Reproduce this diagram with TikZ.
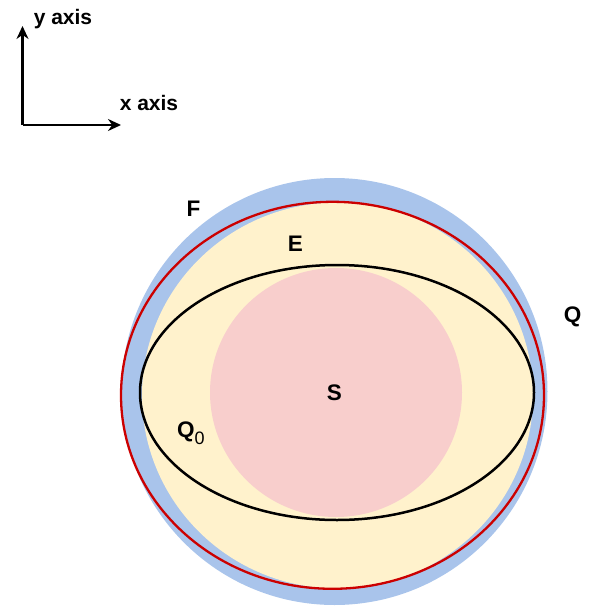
\documentclass[tikz,border=0pt]{standalone}
\usepackage{fontspec}
\setmainfont{Liberation Sans}
\usetikzlibrary{arrows.meta}
\definecolor{bandblue}{HTML}{A9C4EB}
\definecolor{fillyellow}{HTML}{FFF2CC}
\definecolor{fillpink}{HTML}{F8CECC}
\definecolor{linered}{HTML}{CC0000}
\tikzset{
  lbl/.style={inner sep=0pt, font=\fontsize{22.5}{22.5}\selectfont\bfseries, text=black},
  axlbl/.style={inner sep=0pt, font=\fontsize{21}{21}\selectfont\bfseries, text=black},
  axarrow/.style={line width=2.5pt, -{Stealth[length=13pt,width=12pt]}},
}
\begin{document}
\begin{tikzpicture}[x=1pt,y=-1pt]
\useasboundingbox (0,0) rectangle (592,608);
% shapes
\fill[bandblue] (334.5,391.5) ellipse [x radius=213pt, y radius=213.5pt];
\fill[fillyellow] (337.5,395.5) ellipse [x radius=195.5pt, y radius=193pt];
\draw[linered, line width=2.3pt] (332.5,395.3) ellipse [x radius=211.5pt, y radius=193.5pt];
\fill[fillpink] (336,392.5) ellipse [x radius=126pt, y radius=124.5pt];
\draw[black, line width=2.5pt] (337,392.5) ellipse [x radius=197pt, y radius=127.5pt];
% axes
\coordinate (o) at (22.5,125);
\coordinate (ytip) at (22.5,26);
\coordinate (xtip) at (121,125);
\draw[axarrow] (o) -- (ytip);
\draw[axarrow] (o) -- (xtip);
\node[axlbl] (ylab) at (63,19) {y axis};
\node[axlbl] (xlab) at (149,103) {x axis};
% labels
\node[lbl] (F) at (193.5,208.5) {F};
\node[lbl] (E) at (295.5,243.5) {E};
\node[lbl] (Q) at (572.5,316.5) {Q};
\node[lbl] (S) at (334.5,392.5) {S};
\node[lbl, anchor=base west] (Q0) at (177,437) {Q\raisebox{-7pt}{\fontsize{18}{18}\selectfont\mdseries 0}};
\end{tikzpicture}
\end{document}
